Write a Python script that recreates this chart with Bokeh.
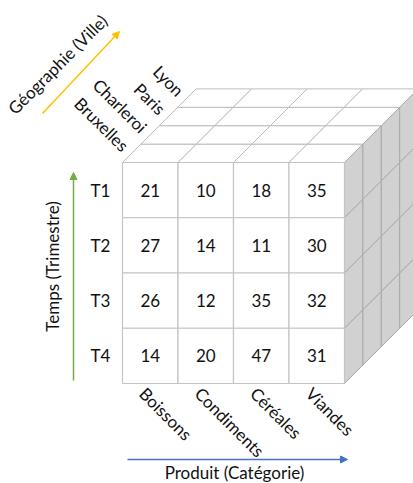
import math
from bokeh.plotting import figure
from bokeh.models import Range1d, ColumnDataSource, Arrow, NormalHead
from bokeh.core.properties import value
from bokeh.embed import file_html
from bokeh.resources import INLINE

# ---- data ----
products = ["Boissons", "Condiments", "Céréales", "Viandes"]
quarters = ["T1", "T2", "T3", "T4"]
cities = ["Bruxelles", "Charleroi", "Paris", "Lyon"]  # front to back
values_T1 = [21, 10, 18, 35]
values_T2 = [27, 14, 11, 30]
values_T3 = [26, 12, 35, 32]
values_T4 = [14, 20, 47, 31]
values = [values_T1, values_T2, values_T3, values_T4]
axis_products = "Produit (Catégorie)"
axis_time = "Temps (Trimestre)"
axis_geo = "Géographie (Ville)"

# ---- layout ----
W, H = 413, 483
X0, Y0 = 122.0, 162.0      # front face top-left (image coords, y down)
CW, CH = 55.5, 55.25       # cell width/height
D = 18.4                   # depth step (diagonal)
FONT = "Lato"
FS = "17px"
TC = "#111111"

def Y(y):
    return H - y

p = figure(width=W, height=H, output_backend="svg", toolbar_location=None,
           x_range=Range1d(0, W), y_range=Range1d(0, H),
           x_axis_location=None, y_axis_location=None, min_border=0)
p.grid.visible = False
p.outline_line_color = None
p.background_fill_color = "white"
p.border_fill_color = "white"

nc, nr, nd = len(products), len(quarters), len(cities)
X1 = X0 + nc * CW

# top face
txs, tys = [], []
for k in range(nd):
    for i in range(nc):
        xa = X0 + i * CW + k * D
        xb = X0 + (i + 1) * CW + k * D
        ya = Y0 - k * D
        txs.append([xa, xb, xb + D, xa + D])
        tys.append([Y(ya), Y(ya), Y(ya - D), Y(ya - D)])
p.patches(txs, tys, fill_color="white", line_color="#bdbdbd", line_width=1)

# right face
rxs, rys = [], []
for k in range(nd):
    for j in range(nr):
        xa = X1 + k * D
        ya = Y0 + j * CH - k * D
        yb = Y0 + (j + 1) * CH - k * D
        rxs.append([xa, xa + D, xa + D, xa])
        rys.append([Y(ya), Y(ya - D), Y(yb - D), Y(yb)])
p.patches(rxs, rys, fill_color="#d1d1d1", line_color="#a9a9a9", line_width=1)

# front face
fx, fy, ft = [], [], []
for j in range(nr):
    for i in range(nc):
        fx.append(X0 + (i + 0.5) * CW)
        fy.append(Y(Y0 + (j + 0.5) * CH))
        ft.append(str(values[j][i]))
src = ColumnDataSource(dict(x=fx, y=fy, t=ft))
p.rect(x="x", y="y", width=CW, height=CH, source=src,
       fill_color="white", line_color="#c4c4c4", line_width=1.2)
p.text(x="x", y="y", text="t", source=src, text_align="center",
       text_baseline="middle", text_font=value(FONT), text_font_size=FS,
       text_color=TC)

# quarter labels
p.text(x=[100] * nr, y=[Y(Y0 + (j + 0.5) * CH) for j in range(nr)], text=quarters,
       text_align="center", text_baseline="middle", text_font=value(FONT),
       text_font_size=FS, text_color=TC)

# city labels
p.text(x=[X0 + (k + 0.5) * D - 6 for k in range(nd)],
       y=[Y(Y0 - (k + 0.5) * D - 5) for k in range(nd)], text=cities,
       angle=-math.pi / 4, text_align="right", text_baseline="middle",
       text_font=value(FONT), text_font_size=FS, text_color=TC)

# product labels
p.text(x=[X0 + i * CW + 20 for i in range(nc)], y=[Y(390)] * nc, text=products,
       angle=-math.pi / 4, text_align="left", text_baseline="middle",
       text_font=value(FONT), text_font_size=FS, text_color=TC)

# axis titles
p.text(x=[234], y=[Y(472)], text=[axis_products], text_align="center",
       text_baseline="middle", text_font=value(FONT), text_font_size=FS,
       text_color=TC)
p.text(x=[52], y=[Y(266)], text=[axis_time], angle=math.pi / 2,
       text_align="center", text_baseline="middle", text_font=value(FONT),
       text_font_size=FS, text_color=TC)
p.text(x=[57], y=[Y(64)], text=[axis_geo], angle=math.pi / 4,
       text_align="center", text_baseline="middle", text_font=value(FONT),
       text_font_size=FS, text_color=TC)

# arrows
def arrow(xs, ys, xe, ye, color):
    p.add_layout(Arrow(x_start=xs, y_start=Y(ys), x_end=xe, y_end=Y(ye),
                       line_color=color, line_width=1.5,
                       end=NormalHead(size=7, fill_color=color, line_color=color)))

arrow(127, 459, 347, 459, "#4472C4")
arrow(73, 380, 73, 172, "#70AD47")
arrow(42, 113, 119, 31, "#FFC000")

open("out.html", "w").write(file_html(p, INLINE))
